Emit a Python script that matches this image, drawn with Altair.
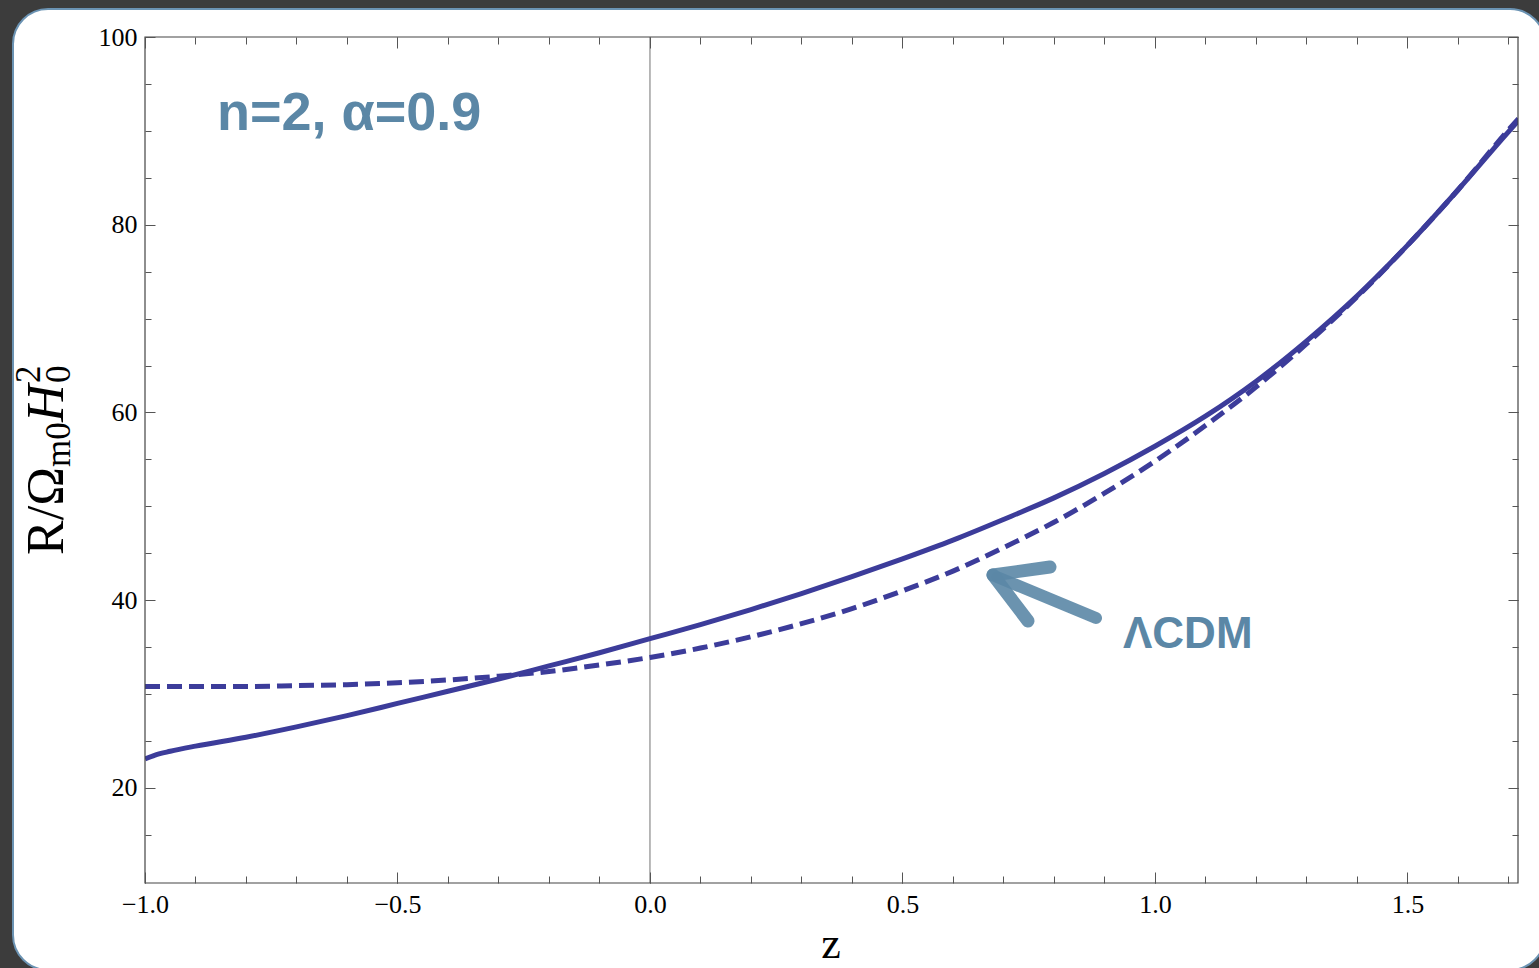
import altair as alt
import pandas as pd

# ---- data ----
z_model = [-1.0, -0.98, -0.95, -0.9, -0.8, -0.7, -0.6, -0.5, -0.4, -0.3, -0.2, -0.1,
           0.0, 0.1, 0.2, 0.3, 0.4, 0.5, 0.6, 0.7, 0.8, 0.9, 1.0, 1.1, 1.2, 1.3,
           1.4, 1.5, 1.6, 1.7, 1.72]
r_model = [23.1, 23.5, 23.9, 24.45, 25.4, 26.5, 27.7, 29.0, 30.3, 31.6, 33.0, 34.4,
           35.9, 37.4, 39.0, 40.7, 42.5, 44.4, 46.4, 48.6, 50.9, 53.5, 56.4, 59.6,
           63.3, 67.6, 72.4, 77.8, 83.7, 89.9, 91.1]

z_lcdm = [-1.0, -0.9, -0.8, -0.7, -0.6, -0.5, -0.4, -0.3, -0.2, -0.1, 0.0, 0.1,
          0.2, 0.3, 0.4, 0.5, 0.6, 0.7, 0.8, 0.9, 1.0, 1.1, 1.2, 1.3, 1.4, 1.5,
          1.6, 1.7, 1.72]
r_lcdm = [30.8, 30.8, 30.8, 30.9, 31.0, 31.2, 31.5, 31.9, 32.4, 33.1, 33.9, 34.9,
          36.1, 37.5, 39.1, 41.0, 43.1, 45.6, 48.3, 51.4, 54.8, 58.6, 62.7, 67.3,
          72.3, 77.8, 83.7, 90.1, 91.3]

x_major = [-1.0, -0.5, 0.0, 0.5, 1.0, 1.5]
x_minor = [-1.0, -0.9, -0.8, -0.7, -0.6, -0.5, -0.4, -0.3, -0.2, -0.1, 0.0, 0.1,
           0.2, 0.3, 0.4, 0.5, 0.6, 0.7, 0.8, 0.9, 1.0, 1.1, 1.2, 1.3, 1.4, 1.5,
           1.6, 1.7]
y_major = [20, 40, 60, 80, 100]
y_minor = [15, 20, 25, 30, 35, 40, 45, 50, 55, 60, 65, 70, 75, 80, 85, 90, 95, 100]

x_domain = [-1.0, 1.719]
y_domain = [9.87, 100]

df_model = pd.DataFrame({"z": z_model, "r": r_model})
df_lcdm = pd.DataFrame({"z": z_lcdm, "r": r_lcdm})
one = pd.DataFrame({"a": [0]})

W, H = 1373, 846
LINE = "#3c3c9a"
ANN = "#5b87a6"
SERIF = "Liberation Serif"

xs = alt.Scale(domain=x_domain, nice=False, zero=False)
ys = alt.Scale(domain=y_domain, nice=False, zero=False)

common = dict(domain=False, grid=False, tickColor="#555555", tickWidth=1, zindex=2,
              labelFont=SERIF, labelFontSize=26, labelColor="black", title=None,
              labelFlush=False, labelOverlap=False, labelBound=False)


def xax(orient, values, size, labels):
    return alt.Axis(orient=orient, values=values, tickSize=size, offset=-size,
                    labels=labels, labelPadding=8, format=".1f", **common)


def yax(orient, values, size, labels):
    return alt.Axis(orient=orient, values=values, tickSize=size, offset=-size,
                    labels=labels, labelPadding=8, format="d", **common)


panel = alt.Chart(one).mark_rect(fill="white", stroke="#6b93b3", strokeWidth=2,
                                 cornerRadius=35).encode(
    x=alt.value(-132), x2=alt.value(1400), y=alt.value(-28), y2=alt.value(933))

zero_line = alt.Chart(one).mark_rule(color="#8a8a8a", strokeWidth=1.2).encode(
    x=alt.datum(0.0, scale=xs, axis=None))

lcdm = alt.Chart(df_lcdm).mark_line(color=LINE, strokeWidth=5, strokeDash=[15, 7],
                                    interpolate="monotone", clip=True).encode(
    x=alt.X("z:Q", scale=xs, axis=xax("bottom", x_minor, 7, False)),
    y=alt.Y("r:Q", scale=ys, axis=yax("left", y_minor, 6, False)))

model = alt.Chart(df_model).mark_line(color=LINE, strokeWidth=5,
                                      interpolate="monotone", clip=True).encode(
    x=alt.X("z:Q", scale=xs, axis=xax("bottom", x_major, 11, True)),
    y=alt.Y("r:Q", scale=ys, axis=yax("left", y_major, 10, True)))

ghost1 = alt.Chart(df_model).mark_line(opacity=0).encode(
    x=alt.X("z:Q", scale=xs, axis=xax("top", x_major, 11, False)),
    y=alt.Y("r:Q", scale=ys, axis=yax("right", y_major, 10, False)))

ghost2 = alt.Chart(df_model).mark_line(opacity=0).encode(
    x=alt.X("z:Q", scale=xs, axis=xax("top", x_minor, 7, False)),
    y=alt.Y("r:Q", scale=ys, axis=yax("right", y_minor, 6, False)))

frame = alt.Chart(one).mark_rect(fillOpacity=0, stroke="#444444", strokeWidth=1.2).encode(
    x=alt.value(0), x2=alt.value(W), y=alt.value(0), y2=alt.value(H))


def txt(text, x, y, size, font=SERIF, angle=0, align="left", baseline="alphabetic",
        color="black", weight="normal", style="normal"):
    return alt.Chart(one).mark_text(text=text, font=font, fontSize=size, angle=angle,
                                    align=align, baseline=baseline, color=color,
                                    fontWeight=weight, fontStyle=style).encode(
        x=alt.value(x), y=alt.value(y))


ylab = [
    txt("R/Ω", -82, 518, 52, angle=270),
    txt("m0", -75, 430, 35, angle=270),
    txt("H", -82, 385, 52, angle=270, style="italic"),
    txt("2", -105, 346, 35, angle=270),
    txt("0", -75, 346, 35, angle=270),
]
xlab = txt("z", 686, 921, 44, align="center")

ann1 = txt("n=2, α=0.9", 72, 93, 54, font="Liberation Sans", color=ANN, weight="bold")
ann2 = txt("ΛCDM", 978, 611, 44, font="Liberation Sans", color=ANN, weight="bold")


def seg(x1, y1, x2, y2, w):
    return alt.Chart(one).mark_rule(color=ANN, strokeWidth=w, strokeCap="round",
                                    opacity=0.9).encode(
        x=alt.value(x1), y=alt.value(y1), x2=alt.value(x2), y2=alt.value(y2))


arrow = [
    seg(951, 581, 852, 540, 12),
    seg(848, 538, 905, 530, 13),
    seg(848, 538, 883, 584, 13),
]

chart = alt.layer(
    panel, zero_line, lcdm, model, ghost1, ghost2, frame, *ylab, xlab, ann1, ann2, *arrow
).resolve_axis(x="independent", y="independent").properties(
    width=W, height=H,
    padding={"left": 145, "top": 37, "right": 21, "bottom": 85},
    autosize=alt.AutoSizeParams(type="none"),
    background="#3c3c3c",
).configure_view(strokeWidth=0)

chart.save("out.html", embed_options={"renderer": "svg", "actions": False})
